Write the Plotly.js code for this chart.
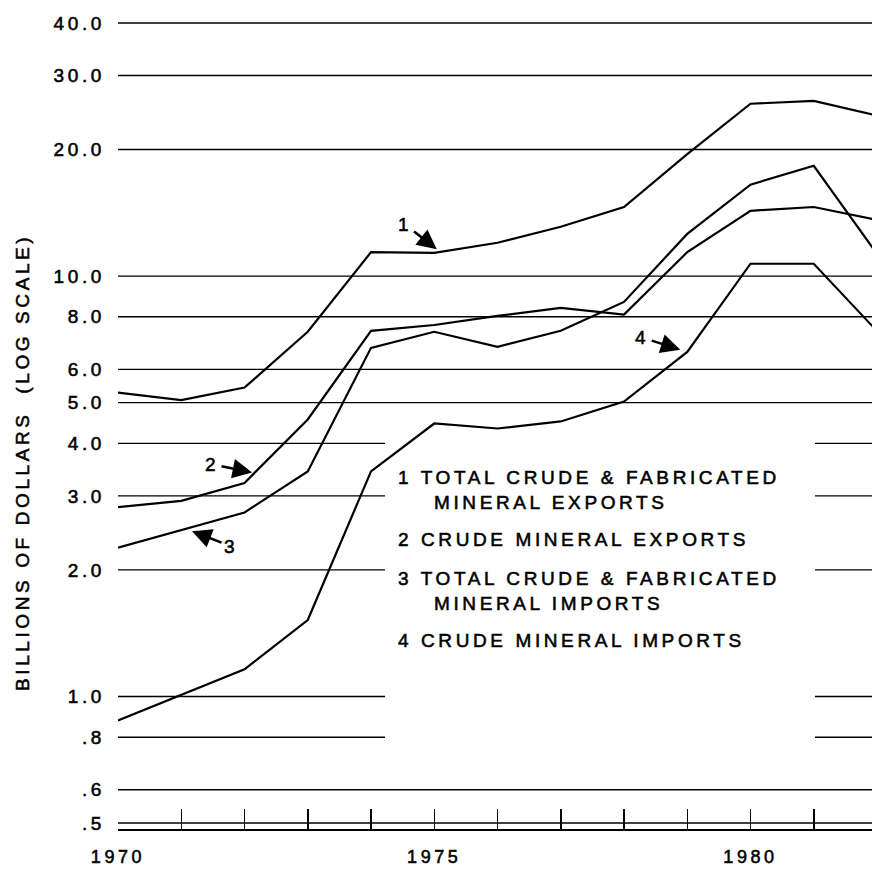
<!DOCTYPE html>
<html>
<head>
<meta charset="utf-8">
<script src="https://cdn.plot.ly/plotly-3.0.1.min.js"></script>
<style>
  html, body { margin: 0; padding: 0; background: #fff; }
  #chart { width: 872px; height: 871px; }
  text { letter-spacing: 3.6px; stroke: #000; stroke-width: 0.55px; }
</style>
</head>
<body>
<div id="chart"></div>
<script>
// ---- data (billions of dollars) ----
const years = [1970, 1971, 1972, 1973, 1974, 1975, 1976, 1977, 1978, 1979, 1980, 1981, 1982];
const totalExports = [5.28, 5.07, 5.43, 7.37, 11.4, 11.35, 12.0, 13.1, 14.6, 19.5, 25.7, 26.1, 24.1];
const crudeExports = [2.82, 2.92, 3.22, 4.56, 7.41, 7.65, 8.04, 8.4, 8.1, 11.4, 14.3, 14.6, 13.6];
const totalImports = [2.26, 2.49, 2.74, 3.43, 6.75, 7.37, 6.79, 7.41, 8.68, 12.6, 16.5, 18.3, 11.3];
const crudeImports = [0.877, 1.01, 1.16, 1.52, 3.43, 4.46, 4.34, 4.51, 5.03, 6.6, 10.7, 10.7, 7.4];

const gridVals = [40, 30, 20, 10, 8, 6, 5, 4, 3, 2, 1, 0.8, 0.6, 0.5];
const gridText = ["40.0", "30.0", "20.0", "10.0", "8.0", "6.0", "5.0", "4.0", "3.0", "2.0", "1.0", ".8", ".6", ".5"];
const brokenGrid = [4, 3, 2, 1, 0.8];   // gridlines interrupted by the legend block
const xTickText = years.map(y => (y % 5 === 0 ? String(y) : ""));

const legendLines = [
  "1 TOTAL CRUDE & FABRICATED",
  "MINERAL EXPORTS",
  "2 CRUDE MINERAL EXPORTS",
  "3 TOTAL CRUDE & FABRICATED",
  "MINERAL IMPORTS",
  "4 CRUDE MINERAL IMPORTS"
];
const seriesLabels = ["1", "2", "3", "4"];
const yTitle = "BILLIONS OF DOLLARS\u00A0 (LOG SCALE)";

// ---- layout geometry ----
const W = 872, H = 871;
const M = { l: 118, r: 0, t: 18, b: 42 };
const plotW = W - M.l - M.r, plotH = H - M.t - M.b;
const px = x => (x - M.l) / plotW;          // pixel -> paper x
const py = y => (H - M.b - y) / plotH;       // pixel -> paper y

const FONT = "Liberation Sans, Arial, sans-serif";
const txt = (size) => ({ family: FONT, size: size, color: "#000" });

function line(y) {
  return { x: years, y: y, type: "scatter", mode: "lines",
           line: { color: "#000", width: 2.2 }, hoverinfo: "skip", showlegend: false };
}
const data = [line(totalExports), line(crudeExports), line(totalImports), line(crudeImports)];

// gridlines as shapes (some broken around the legend)
const gapL = px(385), gapR = px(815);
const shapes = [];
gridVals.forEach(v => {
  const segs = brokenGrid.includes(v) ? [[0, gapL], [gapR, 1]] : [[0, 1]];
  segs.forEach(s => shapes.push({
    type: "line", xref: "paper", yref: "y", x0: s[0], x1: s[1], y0: v, y1: v,
    line: { color: "#000", width: 1.4 }, layer: "below"
  }));
});

// legend text block
const legendPos = [[396, 477], [432, 502], [396, 539], [396, 578], [432, 603], [396, 640]];
const annotations = legendLines.map((t, i) => ({
  text: t, xref: "paper", yref: "paper", x: px(legendPos[i][0]), y: py(legendPos[i][1]),
  xanchor: "left", yanchor: "middle", showarrow: false, font: txt(19)
}));

// y-axis title
annotations.push({
  text: yTitle, xref: "paper", yref: "paper", x: px(22), y: py(463),
  xanchor: "center", yanchor: "middle", textangle: -90, showarrow: false, font: txt(19)
});

// numbered arrows pointing to the curves: [tip year, tip log10 value, ax, ay]
const arrowSpec = [
  [1975.04, 1.064, -32, -25],
  [1972.12, 0.533, -40, -8],
  [1971.17, 0.393, 39, 15],
  [1978.89, 0.825, -38, -12]
];
arrowSpec.forEach((a, i) => {
  annotations.push({
    text: seriesLabels[i], x: a[0], y: a[1], xref: "x", yref: "y",
    ax: a[2], ay: a[3], showarrow: true, arrowhead: 2, arrowsize: 1.5,
    arrowwidth: 2.6, arrowcolor: "#000", standoff: 0, startstandoff: 1,
    font: txt(19)
  });
});

const layout = {
  width: W, height: H,
  margin: M,
  paper_bgcolor: "#fff", plot_bgcolor: "#fff",
  showlegend: false,
  font: txt(18),
  xaxis: {
    range: [1970, 1970 + plotW / 63.25],
    tickvals: years, ticktext: xTickText,
    ticks: "inside", ticklen: 20, tickwidth: 1.5, tickcolor: "#000",
    showgrid: false, zeroline: false,
    showline: true, linecolor: "#000", linewidth: 2,
    tickfont: txt(18),
    ticklabelstandoff: 10
  },
  yaxis: {
    type: "log",
    range: [Math.log10(0.5) - 6 / 422, Math.log10(40) + 5 / 422],
    tickvals: gridVals, ticktext: gridText,
    ticks: "", showgrid: false,
    zeroline: false, showline: false,
    tickfont: txt(19),
    ticklabelstandoff: 12,
    automargin: false
  },
  shapes: shapes,
  annotations: annotations
};

Plotly.newPlot("chart", data, layout, { staticPlot: true, displayModeBar: false });
</script>
</body>
</html>
